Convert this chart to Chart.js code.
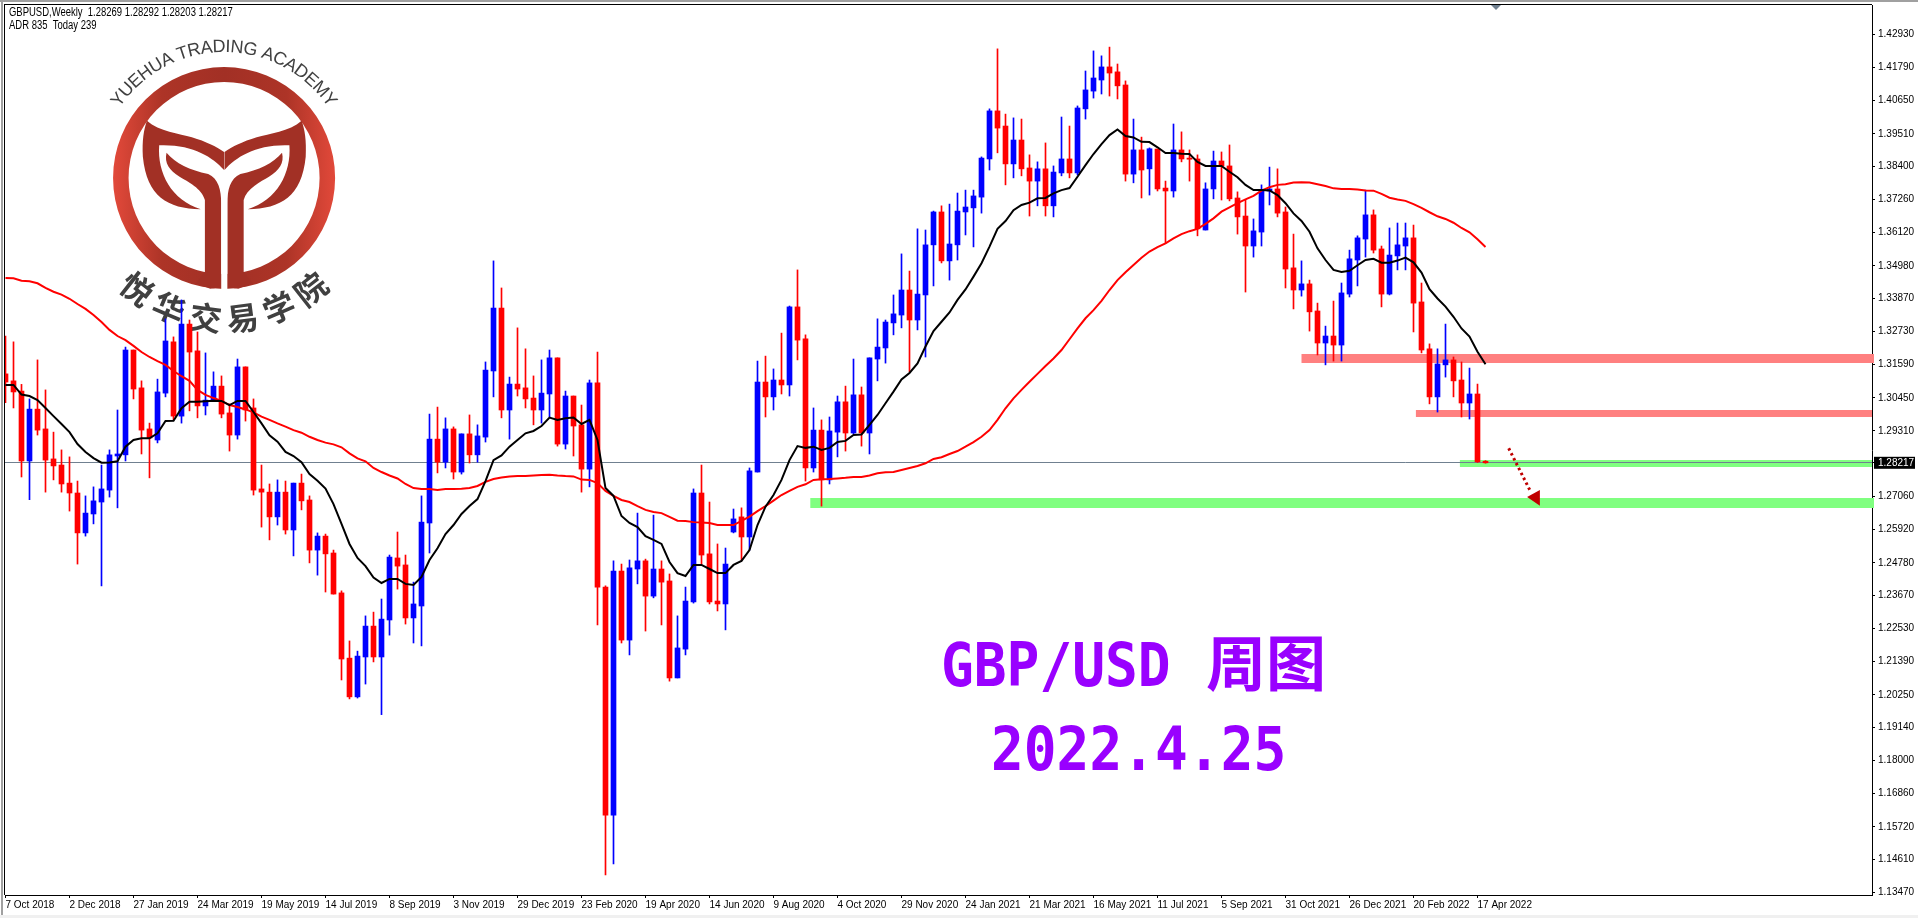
<!DOCTYPE html>
<html><head><meta charset="utf-8"><title>GBP/USD Weekly</title>
<style>html,body{margin:0;padding:0;background:#fff;overflow:hidden}canvas{display:block}</style>
<script src="https://cdn.jsdelivr.net/npm/chart.js@4"></script>
</head><body><canvas id="c" width="1918" height="918"></canvas>
<script>
const opens=[1.3127,1.3103,1.3068,1.2828,1.3006,1.2938,1.2835,1.2814,1.2752,1.2718,
1.2581,1.2646,1.2687,1.2728,1.2845,1.2849,1.3209,1.3079,1.2938,1.2900,
1.3061,1.3237,1.2982,1.3298,1.3206,1.3017,1.3034,1.3085,1.2993,1.2917,
1.3151,1.3010,1.2732,1.2721,1.2636,1.2721,1.2591,1.2752,1.2694,1.2522,
1.2570,1.2512,1.2375,1.2151,1.2018,1.2155,1.2261,1.2155,1.2282,1.2495,
1.2471,1.2289,1.2330,1.2615,1.2903,1.2824,1.2938,1.2790,1.2921,1.2849,
1.2910,1.3137,1.3353,1.3003,1.3092,1.3079,1.3044,1.3003,1.3058,1.3182,
1.2886,1.3051,1.2952,1.2800,1.3096,1.2395,1.1612,1.2450,1.2213,1.2457,
1.2485,1.2364,1.2457,1.2416,1.2083,1.2182,1.2344,1.2718,1.2509,1.2347,
1.2337,1.2584,1.2636,1.2567,1.2790,1.3099,1.3048,1.3106,1.3089,1.3357,
1.3247,1.2804,1.2934,1.2763,1.2927,1.3031,1.2924,1.3055,1.2924,1.3178,
1.3216,1.3302,1.3329,1.3415,1.3312,1.3398,1.3570,1.3683,1.3515,1.3570,
1.3683,1.3697,1.3734,1.3865,1.4030,1.3978,1.3848,1.3930,1.3834,1.3789,
1.3831,1.3704,1.3817,1.3865,1.3817,1.4037,1.4098,1.4136,1.4181,1.4164,
1.4119,1.3813,1.3896,1.3831,1.3899,1.3765,1.3755,1.3896,1.3868,1.3865,
1.3621,1.3762,1.3858,1.3841,1.3731,1.3669,1.3566,1.3614,1.3755,1.3762,
1.3683,1.3491,1.3415,1.3436,1.3343,1.3233,1.3257,1.3226,1.3401,1.3518,
1.3590,1.3673,1.3556,1.3401,1.3532,1.3566,1.3594,1.3374,1.3213,1.3048,
1.3158,1.3175,1.3106,1.3027,1.3058,1.28269];
const highs=[1.3257,1.3237,1.3091,1.3041,1.3175,1.3072,1.2927,1.2866,1.2842,1.2759,
1.2708,1.2739,1.2814,1.2866,1.3003,1.3219,1.3209,1.3103,1.2958,1.3109,
1.3316,1.3254,1.3381,1.3312,1.3271,1.3199,1.3134,1.3120,1.3024,1.3178,
1.3151,1.3041,1.2814,1.2749,1.2763,1.2759,1.2752,1.2783,1.2708,1.2581,
1.2577,1.2522,1.2382,1.2210,1.2175,1.2296,1.2309,1.2354,1.2505,1.2584,
1.2505,1.2412,1.2708,1.2989,1.3013,1.2976,1.2945,1.2921,1.2986,1.2952,
1.3168,1.3515,1.3422,1.3116,1.3285,1.3213,1.3120,1.3175,1.3209,1.3182,
1.3068,1.3051,1.3020,1.3106,1.3202,1.2399,1.2485,1.2474,1.2488,1.2649,
1.2491,1.2642,1.2485,1.2440,1.2296,1.2395,1.2732,1.2814,1.2687,1.2543,
1.2529,1.2663,1.2667,1.2804,1.3171,1.3188,1.3144,1.3267,1.3360,1.3484,
1.3261,1.3010,1.2969,1.2979,1.3051,1.3085,1.3178,1.3082,1.3182,1.3316,
1.3312,1.3398,1.3539,1.3480,1.3625,1.3621,1.3686,1.3704,1.3710,1.3748,
1.3758,1.3758,1.3872,1.4037,1.4243,1.4019,1.4006,1.4002,1.3879,1.3855,
1.3920,1.3841,1.4009,1.3978,1.4047,1.4167,1.4236,1.4219,1.4249,1.4191,
1.4133,1.4002,1.3940,1.3903,1.3899,1.3789,1.3985,1.3958,1.3896,1.3879,
1.3783,1.3892,1.3889,1.3913,1.3752,1.3724,1.3659,1.3776,1.3837,1.3831,
1.3700,1.3607,1.3515,1.3449,1.3370,1.3291,1.3377,1.3439,1.3552,1.3601,
1.3758,1.3690,1.3566,1.3628,1.3645,1.3645,1.3638,1.3439,1.3230,1.3213,
1.3298,1.3185,1.3168,1.3147,1.3092,1.28292];
const lows=[1.3028,1.3010,1.2773,1.2695,1.2917,1.2721,1.2763,1.2721,1.2656,1.2474,
1.2570,1.2612,1.2399,1.2704,1.2667,1.2828,1.3041,1.2852,1.2770,1.2890,
1.3048,1.2969,1.2958,1.3000,1.2976,1.2986,1.3034,1.2976,1.2862,1.2903,
1.2965,1.2711,1.2601,1.2557,1.2608,1.2577,1.2502,1.2660,1.2478,1.2436,
1.2378,1.2371,1.2076,1.2011,1.2014,1.2062,1.2138,1.1957,1.2230,1.2388,
1.2268,1.2203,1.2193,1.2512,1.2787,1.2804,1.2766,1.2783,1.2821,1.2824,
1.2893,1.3048,1.2976,1.2903,1.3051,1.3010,1.2952,1.2958,1.2980,1.2879,
1.2869,1.2845,1.2721,1.2739,1.2265,1.1407,1.1444,1.2203,1.2162,1.2406,
1.2244,1.2358,1.2265,1.2072,1.2083,1.2162,1.2340,1.2471,1.2337,1.2313,
1.2248,1.2581,1.2485,1.2522,1.2790,1.2979,1.3003,1.3058,1.3051,1.3175,
1.2759,1.2790,1.2673,1.2749,1.2842,1.2862,1.2921,1.2879,1.2852,1.3103,
1.3164,1.3261,1.3285,1.3134,1.3278,1.3185,1.3429,1.3508,1.3449,1.3518,
1.3604,1.3563,1.3679,1.3827,1.3886,1.3776,1.3800,1.3807,1.3669,1.3704,
1.3669,1.3666,1.3807,1.3800,1.3810,1.4002,1.4074,1.4088,1.4081,1.4071,
1.3789,1.3783,1.3731,1.3741,1.3755,1.3576,1.3734,1.3855,1.3789,1.3601,
1.3621,1.3728,1.3724,1.3721,1.3607,1.3408,1.3528,1.3566,1.3707,1.3666,
1.3422,1.3350,1.3394,1.3274,1.3192,1.3158,1.3171,1.3171,1.3391,1.3429,
1.3528,1.3542,1.3357,1.3398,1.3484,1.3484,1.3271,1.3199,1.3024,1.2996,
1.3116,1.3048,1.2979,1.2972,1.2823,1.28203];
const closes=[1.3099,1.3065,1.2828,1.3006,1.2934,1.2831,1.2811,1.2749,1.2718,1.2581,
1.2649,1.2691,1.2732,1.2849,1.2852,1.3209,1.3075,1.2934,1.2907,1.3065,
1.3240,1.2982,1.3298,1.3202,1.3017,1.3037,1.3085,1.2989,1.2917,1.3151,
1.3003,1.2728,1.2721,1.2636,1.2721,1.2591,1.2752,1.2691,1.2522,1.2570,
1.2509,1.2371,1.2148,1.2018,1.2158,1.2261,1.2155,1.2285,1.2498,1.2467,
1.2289,1.2337,1.2618,1.2903,1.2824,1.2938,1.2790,1.2921,1.2849,1.2914,
1.3140,1.3353,1.3003,1.3092,1.3075,1.3041,1.3003,1.3061,1.3182,1.2886,
1.3051,1.2948,1.2800,1.3096,1.2395,1.1612,1.2450,1.2213,1.2461,1.2485,
1.2364,1.2457,1.2412,1.2083,1.2186,1.2347,1.2718,1.2505,1.2344,1.2337,
1.2474,1.2629,1.2567,1.2794,1.3099,1.3048,1.3106,1.3089,1.3357,1.3243,
1.2804,1.2934,1.2763,1.2931,1.3031,1.2924,1.3055,1.2924,1.3182,1.3219,
1.3305,1.3333,1.3415,1.3312,1.3401,1.3570,1.3683,1.3515,1.3573,1.3686,
1.3700,1.3738,1.3868,1.4030,1.3971,1.3848,1.3930,1.3831,1.3789,1.3831,
1.3704,1.3820,1.3865,1.3817,1.4040,1.4102,1.4143,1.4181,1.4160,1.4116,
1.3813,1.3896,1.3827,1.3900,1.3762,1.3755,1.3896,1.3865,1.3864,1.3625,
1.3762,1.3858,1.3841,1.3728,1.3666,1.3566,1.3618,1.3758,1.3762,1.3679,
1.3487,1.3415,1.3436,1.3340,1.3233,1.3257,1.3226,1.3405,1.3522,1.3594,
1.3673,1.3552,1.3401,1.3535,1.3570,1.3594,1.3370,1.3209,1.3048,1.3161,
1.3175,1.3103,1.3027,1.3058,1.2825,1.28217];
const maFast=[1.3089,1.3089,1.3056,1.3051,1.3037,1.3010,1.2982,1.2955,1.2927,1.2886,
1.2859,1.2838,1.2822,1.2823,1.2827,1.2877,1.2900,1.2906,1.2906,1.2923,
1.2965,1.2966,1.3009,1.3031,1.3031,1.3033,1.3035,1.3034,1.3020,1.3034,
1.3034,1.2996,1.2957,1.2916,1.2894,1.2859,1.2845,1.2824,1.2783,1.2760,
1.2733,1.2680,1.2612,1.2543,1.2495,1.2467,1.2428,1.2409,1.2423,1.2423,
1.2406,1.2402,1.2430,1.2488,1.2528,1.2577,1.2608,1.2646,1.2673,1.2697,
1.2759,1.2831,1.2847,1.2877,1.2900,1.2923,1.2931,1.2948,1.2977,1.2969,
1.2975,1.2977,1.2955,1.2969,1.2900,1.2735,1.2708,1.2639,1.2615,1.2601,
1.2570,1.2557,1.2543,1.2481,1.2443,1.2433,1.2471,1.2471,1.2457,1.2443,
1.2443,1.2471,1.2485,1.2522,1.2608,1.2671,1.2711,1.2763,1.2831,1.2879,
1.2873,1.2877,1.2866,1.2873,1.2893,1.2897,1.2917,1.2919,1.2952,1.2986,
1.3026,1.3066,1.3108,1.3130,1.3163,1.3221,1.3274,1.3306,1.3338,1.3381,
1.3417,1.3461,1.3507,1.3564,1.3625,1.3652,1.3689,1.3707,1.3715,1.3730,
1.3731,1.3747,1.3758,1.3765,1.3804,1.3844,1.3882,1.3916,1.3947,1.3966,
1.3944,1.3939,1.3924,1.3923,1.3905,1.3885,1.3885,1.3883,1.3882,1.3855,
1.3841,1.3841,1.3841,1.3821,1.3802,1.3776,1.3758,1.3758,1.3757,1.3741,
1.3713,1.3678,1.3652,1.3615,1.3558,1.3518,1.3484,1.3477,1.3481,1.3500,
1.3518,1.3522,1.3509,1.3509,1.3516,1.3526,1.3510,1.3475,1.3418,1.3386,
1.3358,1.3323,1.3283,1.3255,1.3203,1.3160];
const maSlow=[1.3456,1.3455,1.3447,1.3445,1.3438,1.3422,1.3409,1.3399,1.3385,1.3367,
1.3350,1.3329,1.3305,1.3278,1.3257,1.3243,1.3223,1.3202,1.3185,1.3171,
1.3158,1.3137,1.3119,1.3103,1.3072,1.3055,1.3044,1.3034,1.3020,1.3013,
1.3005,1.2995,1.2980,1.2969,1.2957,1.2946,1.2934,1.2925,1.2911,1.2900,
1.2891,1.2885,1.2875,1.2854,1.2837,1.2827,1.2804,1.2790,1.2778,1.2768,
1.2749,1.2735,1.2732,1.2732,1.2728,1.2732,1.2732,1.2733,1.2735,1.2742,
1.2756,1.2766,1.2771,1.2775,1.2776,1.2776,1.2778,1.2780,1.2781,1.2778,
1.2776,1.2775,1.2764,1.2763,1.2752,1.2725,1.2708,1.2694,1.2687,1.2673,
1.2660,1.2653,1.2649,1.2636,1.2623,1.2622,1.2618,1.2617,1.2615,1.2608,
1.2608,1.2608,1.2622,1.2637,1.2656,1.2673,1.2692,1.2711,1.2725,1.2739,
1.2748,1.2763,1.2765,1.2766,1.2768,1.2770,1.2773,1.2773,1.2778,1.2786,
1.2789,1.2790,1.2797,1.2804,1.2811,1.2820,1.2835,1.2841,1.2852,1.2862,
1.2877,1.2893,1.2911,1.2934,1.2969,1.3009,1.3043,1.3072,1.3100,1.3127,
1.3154,1.3180,1.3209,1.3246,1.3283,1.3318,1.3346,1.3378,1.3415,1.3449,
1.3476,1.3501,1.3526,1.3547,1.3562,1.3575,1.3592,1.3607,1.3617,1.3625,
1.3642,1.3661,1.3684,1.3699,1.3713,1.3726,1.3738,1.3756,1.3768,1.3776,
1.3778,1.3784,1.3785,1.3784,1.3778,1.3772,1.3764,1.3762,1.3762,1.3760,
1.3757,1.3756,1.3745,1.3732,1.3726,1.3721,1.3710,1.3697,1.3682,1.3668,
1.3659,1.3646,1.3628,1.3613,1.3589,1.3563];
const dateLabels=['7 Oct 2018','2 Dec 2018','27 Jan 2019','24 Mar 2019','19 May 2019','14 Jul 2019','8 Sep 2019','3 Nov 2019','29 Dec 2019','23 Feb 2020','19 Apr 2020','14 Jun 2020','9 Aug 2020','4 Oct 2020','29 Nov 2020','24 Jan 2021','21 Mar 2021','16 May 2021','11 Jul 2021','5 Sep 2021','31 Oct 2021','26 Dec 2021','20 Feb 2022','17 Apr 2022'];
const barsPerDateLabel=8;
const priceTicks=[1.42930,1.41790,1.40650,1.39510,1.38400,1.37260,1.36120,1.34980,1.33870,1.32730,1.31590,1.30450,1.29310,1.27060,1.25920,1.24780,1.23670,1.22530,1.21390,1.20250,1.19140,1.18000,1.16860,1.15720,1.14610,1.13470];
const lastPrice=1.28217;
// support / resistance zones: [first bar, upper price, lower price]
const zoneRed=[[162,1.31953,1.31644],[176.3,1.30030,1.29790]];
const zoneGreen=[[181.8,1.28313,1.28073],[100.6,1.27008,1.26665]];
const arrowLine=[[187.9,1.28715],[190.6,1.27249]];
const arrowHead=[[190.2,1.27043],[191.8,1.27283],[191.8,1.26744]];
const headerLines=['GBPUSD,Weekly  1.28269 1.28292 1.28203 1.28217','ADR 835  Today 239'];
const titleLines=['GBP/USD ','周图','2022.4.25'];

const UP='#0000FF',DOWN='#FF0000';
const idx=opens.map((_,i)=>i);
const barColor=idx.map(i=>closes[i]>=opens[i]?UP:DOWN);
const SANS='"Liberation Sans",sans-serif';

function drawLogo(ctx){
  ctx.save();
  ctx.scale(1/2.45,1/3);
  const g=ctx.createLinearGradient(277,0,822,0);
  g.addColorStop(0,'#E2493A');g.addColorStop(.22,'#AD3427');g.addColorStop(.5,'#A23025');g.addColorStop(.78,'#AD3427');g.addColorStop(1,'#E2493A');
  ctx.fillStyle=g;
  ctx.beginPath();
  ctx.ellipse(549,534,272,333,0,0,Math.PI*2);
  ctx.ellipse(549,534,234,288,0,0,Math.PI*2);
  ctx.fill('evenodd');
  const half=()=>{
    ctx.beginPath();
    ctx.moveTo(360,362);
    ctx.bezierCurveTo(390,395,440,400,470,412);
    ctx.bezierCurveTo(505,425,530,440,549,456);
    ctx.lineTo(549,510);
    ctx.bezierCurveTo(520,470,470,432,390,436);
    ctx.bezierCurveTo(385,520,420,600,492,628);
    ctx.bezierCurveTo(410,625,360,590,350,470);
    ctx.bezierCurveTo(348,420,352,390,360,362);
    ctx.closePath();ctx.fill();
    ctx.beginPath();
    ctx.moveTo(408,458);
    ctx.bezierCurveTo(430,490,465,510,510,522);
    ctx.bezierCurveTo(535,535,542,570,542,610);
    ctx.lineTo(542,845);
    ctx.quadraticCurveTo(538,866,515,866);
    ctx.lineTo(480,850);
    ctx.lineTo(502,815);
    ctx.lineTo(502,600);
    ctx.bezierCurveTo(495,565,460,545,440,530);
    ctx.bezierCurveTo(415,510,402,490,408,458);
    ctx.closePath();ctx.fill();
  };
  ctx.fillStyle='#A23025';
  half();
  ctx.save();ctx.translate(1099,0);ctx.scale(-1,1);half();ctx.restore();
  ctx.fillStyle='#fff';
  ctx.fillRect(542,512,15,360);
  ctx.restore();

  ctx.save();
  ctx.fillStyle='#404040';
  ctx.font='18px "Liberation Sans",sans-serif';
  ctx.textAlign='center';ctx.textBaseline='alphabetic';
  const s='YUEHUA TRADING ACADEMY',cx=224,cy=178,R=126;
  const total=ctx.measureText(s).width,span=112*Math.PI/180;
  let run=0;
  for(const ch of s){
    const w=ctx.measureText(ch).width;
    const a=-span/2+span*(run+w/2)/total;
    ctx.save();ctx.translate(cx+R*Math.sin(a),cy-R*Math.cos(a));ctx.rotate(a);ctx.fillText(ch,0,0);ctx.restore();
    run+=w;
  }
  ctx.font='bold 32px "Noto Sans CJK SC",sans-serif';
  ctx.textBaseline='middle';
  const cn='悦华交易学院',ang=[38,23,7.5,-7.5,-23,-38];
  [...cn].forEach((ch,i)=>{
    const a=ang[i]*Math.PI/180;
    ctx.save();ctx.translate(cx-141*Math.sin(a),cy+141*Math.cos(a));ctx.rotate(a);ctx.fillText(ch,0,0);ctx.restore();
  });
  ctx.restore();
}
function drawTitle(ctx){
  ctx.save();
  ctx.fillStyle='#9900FF';ctx.textBaseline='alphabetic';ctx.textAlign='left';
  const mono='bold 54.5px "DejaVu Sans Mono",monospace';
  ctx.save();ctx.translate(941,686);ctx.scale(1,1.12);ctx.font=mono;ctx.fillText(titleLines[0],0,0);ctx.restore();
  ctx.font='bold 60px "Noto Sans CJK SC",sans-serif';
  ctx.fillText(titleLines[1],1206,686);
  ctx.save();ctx.translate(991,770);ctx.scale(1,1.12);ctx.font=mono;ctx.fillText(titleLines[2],0,0);ctx.restore();
  ctx.restore();
}
function narrowText(ctx,text,x,y,size,squeeze){
  ctx.save();ctx.translate(x,y);ctx.scale(squeeze,1);ctx.font=size+'px '+SANS;ctx.fillText(text,0,0);ctx.restore();
}
const overlay={
  id:'overlay',
  beforeDatasetsDraw(chart){
    const ctx=chart.ctx,x=chart.scales.x,y=chart.scales.y,a=chart.chartArea;
    ctx.save();
    ctx.fillStyle='#fff';ctx.fillRect(a.left,a.top,a.width,a.height);
    drawLogo(ctx);drawTitle(ctx);
    ctx.fillStyle='#FF8080';
    zoneRed.forEach(([b,h,l],n)=>{const t=y.getPixelForValue(h),B=y.getPixelForValue(l),L=x.getPixelForValue(b);ctx.fillRect(L,t,(n===0?a.right+2:a.right)-L,B-t);});
    ctx.fillStyle='#80FF80';
    zoneGreen.forEach(([b,h,l],n)=>{const t=y.getPixelForValue(h),B=y.getPixelForValue(l),L=x.getPixelForValue(b);ctx.fillRect(L,t,(n===1?a.right+2:a.right)-L,B-t);});
    const p=Math.floor(y.getPixelForValue(lastPrice))+.5;
    ctx.strokeStyle='#708090';ctx.lineWidth=1;ctx.beginPath();ctx.moveTo(a.left,p);ctx.lineTo(a.right,p);ctx.stroke();
    ctx.restore();
  },
  afterDatasetsDraw(chart){
    const ctx=chart.ctx,x=chart.scales.x,y=chart.scales.y,a=chart.chartArea;
    ctx.save();
    ctx.strokeStyle='#C00000';ctx.lineWidth=3;ctx.setLineDash([2.5,3]);
    ctx.beginPath();
    arrowLine.forEach(([i,v],n)=>{const X=x.getPixelForValue(i),Y=y.getPixelForValue(v);n?ctx.lineTo(X,Y):ctx.moveTo(X,Y);});
    ctx.stroke();ctx.setLineDash([]);
    ctx.fillStyle='#C00000';ctx.beginPath();
    arrowHead.forEach(([i,v],n)=>{const X=x.getPixelForValue(i),Y=y.getPixelForValue(v);n?ctx.lineTo(X,Y):ctx.moveTo(X,Y);});
    ctx.closePath();ctx.fill();
    // window frame
    ctx.fillStyle='#A0A0A0';ctx.fillRect(0,0,1918,2);ctx.fillRect(1,0,2,918);
    ctx.fillStyle='#F0F0F0';ctx.fillRect(0,915,1918,3);
    ctx.fillStyle='#000';ctx.fillRect(4,4,1868+0,1);ctx.fillRect(4,4,1,891);
    ctx.fillStyle='#708090';ctx.beginPath();ctx.moveTo(1491,5);ctx.lineTo(1501,5);ctx.lineTo(1496,10);ctx.closePath();ctx.fill();
    // header
    ctx.fillStyle='#000';ctx.textAlign='left';ctx.textBaseline='middle';
    narrowText(ctx,headerLines[0],9,12.5,12,0.79);
    narrowText(ctx,headerLines[1],9,25.5,12,0.79);
    // last price tag
    const p=y.getPixelForValue(lastPrice);
    ctx.fillStyle='#000';ctx.fillRect(1874,p-6,41,12);
    ctx.fillStyle='#fff';narrowText(ctx,lastPrice.toFixed(5),1878,p,10,1);
    ctx.fillStyle='#000';ctx.fillRect(1872,Math.floor(p),3,1);
    ctx.restore();
  }
};
const chartDatasets=[
 {type:'line',label:'MA fast',data:idx.map(i=>({x:i,y:maFast[i]})),borderColor:'#000',borderWidth:2,pointRadius:0,tension:0,order:1},
 {type:'line',label:'MA slow',data:idx.map(i=>({x:i,y:maSlow[i]})),borderColor:'#FF0000',borderWidth:2,pointRadius:0,tension:0,order:2},
 {type:'bar',label:'Body',data:idx.map(i=>({x:i,y:[opens[i],closes[i]]})),backgroundColor:barColor,barThickness:5,order:3,grouped:false,minBarLength:1},
 {type:'bar',label:'Range',data:idx.map(i=>({x:i,y:[lows[i],highs[i]]})),backgroundColor:barColor,barThickness:1,order:4,grouped:false}
];
new Chart(document.getElementById('c'),{
  type:'bar',
  data:{datasets:chartDatasets},
  plugins:[overlay],
  options:{
    responsive:false,animation:false,devicePixelRatio:1,
    layout:{padding:{left:5,top:5,right:0,bottom:0}},
    plugins:{legend:{display:false},tooltip:{enabled:false},title:{display:false}},
    scales:{
      x:{type:'linear',offset:false,min:-0.0625,max:233.3125,
        grid:{offset:false,drawOnChartArea:false,drawTicks:true,tickLength:3,tickColor:'#000'},
        border:{display:true,color:'#000'},
        afterBuildTicks(s){s.ticks=dateLabels.map((_,k)=>({value:k*barsPerDateLabel}));},
        afterFit(s){s.height=23;s.paddingLeft=0;s.paddingRight=0;},
        ticks:{autoSkip:false,maxRotation:0,minRotation:0,align:'start',padding:1,color:'#000',font:{family:SANS,size:10},
          callback(v){return dateLabels[Math.round(v/barsPerDateLabel)];}}
      },
      y:{type:'linear',position:'right',min:1.13377,max:1.43936,
        grid:{drawOnChartArea:false,drawTicks:true,tickLength:3,tickColor:'#000'},
        border:{display:true,color:'#000'},
        afterBuildTicks(s){s.ticks=priceTicks.map(v=>({value:v}));},
        afterFit(s){s.width=46;s.paddingTop=0;s.paddingBottom=0;},
        ticks:{autoSkip:false,padding:3,color:'#000',font:{family:SANS,size:10},callback(v){return v.toFixed(5);}}
      }
    }
  }
});
</script></body></html>
